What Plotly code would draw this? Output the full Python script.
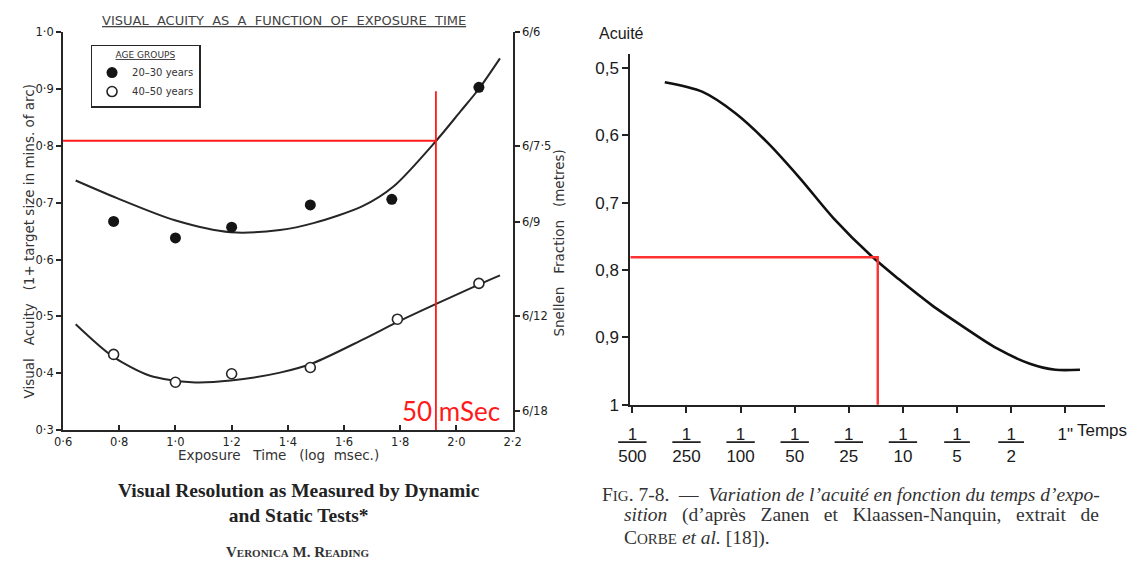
import plotly.graph_objects as go

W, H = 1142, 570


def fx(p):
    """Horizontal pixel position -> paper fraction."""
    return p / W


def fy(p):
    """Vertical pixel position (from top) -> paper fraction."""
    return 1 - p / H


# ---------------- Left panel: Reading, visual acuity vs exposure time ----------------
log_time_ticks = [0.6, 0.8, 1.0, 1.2, 1.4, 1.6, 1.8, 2.0, 2.2]
log_time_labels = ["0·6", "0·8", "1·0", "1·2", "1·4", "1·6", "1·8", "2·0", "2·2"]
acuity_ticks = [0.3, 0.4, 0.5, 0.6, 0.7, 0.8, 0.9, 1.0]
acuity_labels = ["0·3", "0·4", "0·5", "0·6", "0·7", "0·8", "0·9", "1·0"]
snellen_ticks = [1.0, 0.8, 2 / 3, 0.5, 1 / 3]
snellen_labels = ["6/6", "6/7·5", "6/9", "6/12", "6/18"]

# measured points, age group 20-30 years (filled)
young_x = [0.78, 1.00, 1.20, 1.48, 1.77, 2.08]
young_y = [0.667, 0.638, 0.657, 0.696, 0.706, 0.903]
# measured points, age group 40-50 years (open)
old_x = [0.78, 1.00, 1.20, 1.48, 1.79, 2.08]
old_y = [0.433, 0.384, 0.399, 0.410, 0.495, 0.558]

# fitted curves
young_fit_x = [0.645, 0.792, 0.998, 1.197, 1.372, 1.491, 1.666, 1.777, 1.928, 2.015, 2.081, 2.155]
young_fit_y = [0.739, 0.708, 0.669, 0.648, 0.652, 0.664, 0.694, 0.729, 0.809, 0.861, 0.901, 0.954]
old_fit_x = [0.645, 0.775, 0.907, 1.058, 1.197, 1.372, 1.491, 1.666, 1.798, 1.928, 2.085, 2.155]
old_fit_y = [0.486, 0.430, 0.396, 0.384, 0.387, 0.401, 0.418, 0.459, 0.492, 0.522, 0.557, 0.572]

# red reference lines (50 ms marker)
ref_left_time = 1.927
ref_left_acuity = 0.809
ref_left_top = 0.896

# ---------------- Right panel: Zanen & Klaassen-Nanquin ----------------
exposure_denoms = ["500", "250", "100", "50", "25", "10", "5", "2"]
exposure_last = '1"'
acuite_ticks = [0.5, 0.6, 0.7, 0.8, 0.9, 1.0]
acuite_labels = ["0,5", "0,6", "0,7", "0,8", "0,9", "1"]

# curve, x given as position along the exposure scale (0 = 1/500 s ... 8 = 1 s)
acuite_pos = [0.599, 1.288, 1.905, 2.503, 3.102, 3.719, 4.444, 4.916, 5.533, 6.132, 6.730, 7.347, 7.819, 8.272]
acuite_val = [0.521, 0.535, 0.567, 0.611, 0.664, 0.723, 0.781, 0.813, 0.852, 0.885, 0.916, 0.939, 0.948, 0.948]

ref_right_pos = 4.535
ref_right_acuity = 0.781

INK = "#262626"
RED = "#ff1a1a"
SCAN_FONT = "DejaVu Sans"
HELV = "Liberation Sans, Arial, sans-serif"
SERIF = "Liberation Serif, Times New Roman, serif"
SP2 = "\u00a0\u00a0"
SP3 = "\u00a0\u00a0\u00a0"

fig = go.Figure()

# fitted curves
fig.add_trace(go.Scatter(x=young_fit_x, y=young_fit_y, mode="lines", showlegend=False,
                         line=dict(color=INK, width=2, shape="spline", smoothing=0.8),
                         xaxis="x", yaxis="y", hoverinfo="skip"))
fig.add_trace(go.Scatter(x=old_fit_x, y=old_fit_y, mode="lines", showlegend=False,
                         line=dict(color=INK, width=2, shape="spline", smoothing=0.8),
                         xaxis="x", yaxis="y", hoverinfo="skip"))

# red 50 ms guide lines
fig.add_trace(go.Scatter(
    x=[log_time_ticks[0], ref_left_time, None, ref_left_time, ref_left_time],
    y=[ref_left_acuity, ref_left_acuity, None, ref_left_top, acuity_ticks[0]],
    mode="lines", showlegend=False, line=dict(color=RED, width=1.8),
    xaxis="x", yaxis="y", hoverinfo="skip"))

# measured points
fig.add_trace(go.Scatter(x=young_x, y=young_y, mode="markers", name="20–30 years",
                         marker=dict(symbol="circle", size=11, color="#151515"),
                         xaxis="x", yaxis="y"))
fig.add_trace(go.Scatter(x=old_x, y=old_y, mode="markers", name="40–50 years",
                         marker=dict(symbol="circle", size=10, color="white",
                                     line=dict(color=INK, width=1.6)),
                         xaxis="x", yaxis="y"))

# Snellen scale companion (same values, right-hand axis)
fig.add_trace(go.Scatter(x=[log_time_ticks[0]] * len(snellen_ticks), y=snellen_ticks,
                         mode="markers", marker=dict(opacity=0), showlegend=False,
                         xaxis="x", yaxis="y3", hoverinfo="skip"))

# right panel curve
fig.add_trace(go.Scatter(x=acuite_pos, y=acuite_val, mode="lines", showlegend=False,
                         line=dict(color="#111111", width=2.6, shape="spline", smoothing=0.8),
                         xaxis="x2", yaxis="y2", hoverinfo="skip"))
fig.add_trace(go.Scatter(
    x=[-0.04, ref_right_pos, ref_right_pos],
    y=[ref_right_acuity, ref_right_acuity, acuite_ticks[-1] + 0.005],
    mode="lines", showlegend=False, line=dict(color="#ff3030", width=2.4),
    xaxis="x2", yaxis="y2", hoverinfo="skip", cliponaxis=False))

tick_left = dict(family=SCAN_FONT, size=11.5, color="#222222")
tick_right = dict(family=HELV, size=17, color="#1a1a1a")

fraction_labels = []
for d in exposure_denoms:
    pad = SP2 if len(d) > 1 else "\u00a0\u2009"
    fraction_labels.append(f"<u>{pad}1{pad}</u><br>{d}")
fraction_labels.append(exposure_last)

fig.update_layout(
    width=W, height=H,
    margin=dict(l=0, r=0, t=0, b=0),
    paper_bgcolor="white", plot_bgcolor="white",
    showlegend=True,
    legend=dict(
        x=fx(80), y=fy(39), xanchor="left", yanchor="top",
        bordercolor=INK, borderwidth=1.5, bgcolor="white",
        font=dict(family=SCAN_FONT, size=10, color="#333333"),
        title=dict(text="<u>AGE GROUPS</u>", side="top center",
                   font=dict(family=SCAN_FONT, size=9, color="#333333")),
        itemwidth=30, tracegroupgap=0,
    ),
    xaxis=dict(
        domain=[fx(52), fx(510)], range=[0.6, 2.2], anchor="y",
        tickvals=log_time_ticks, ticktext=log_time_labels,
        ticks="inside", ticklen=5, tickwidth=1.5, tickcolor=INK,
        showline=True, linecolor=INK, linewidth=2,
        showgrid=False, zeroline=False, tickfont=tick_left,
    ),
    yaxis=dict(
        domain=[fy(436), fy(26)], range=[0.3, 1.0], anchor="x",
        tickvals=acuity_ticks, ticktext=acuity_labels,
        ticks="outside", ticklen=5, tickwidth=1.5, tickcolor=INK,
        showline=True, linecolor=INK, linewidth=2,
        showgrid=False, zeroline=False, tickfont=tick_left,
    ),
    yaxis3=dict(
        overlaying="y", side="right", anchor="x", range=[0.3, 1.0],
        tickvals=snellen_ticks, ticktext=snellen_labels,
        ticks="outside", ticklen=5, tickwidth=1.5, tickcolor=INK,
        showline=True, linecolor=INK, linewidth=2,
        showgrid=False, zeroline=False, tickfont=tick_left,
    ),
    xaxis2=dict(
        domain=[fx(630), fx(1113)], range=[-0.036, 8.726], anchor="y2",
        tickvals=list(range(len(fraction_labels))), ticktext=fraction_labels,
        ticks="outside", ticklen=6, tickwidth=1.5, tickcolor="#222222",
        ticklabelstandoff=7,
        showline=True, linecolor="#222222", linewidth=2.2,
        showgrid=False, zeroline=False, tickfont=tick_right,
    ),
    yaxis2=dict(
        domain=[fy(410), fy(48)], range=[1.0, 0.4784], anchor="x2",
        tickvals=acuite_ticks, ticktext=acuite_labels,
        ticks="outside", ticklen=6, tickwidth=1.5, tickcolor="#222222",
        showline=True, linecolor="#222222", linewidth=2.2,
        showgrid=False, zeroline=False, tickfont=tick_right,
    ),
)

annotations = [
    # left panel heading
    dict(text="<u>" + SP2.join(["VISUAL", "ACUITY", "AS", "A", "FUNCTION", "OF", "EXPOSURE", "TIME"]) + "</u>",
         x=fx(277), y=fy(14), font=dict(family=SCAN_FONT, size=13, color="#444444")),
    # axis titles
    dict(text="Visual" + SP3 + "Acuity" + SP3 + "(1+ target size in mins. of arc)",
         x=fx(17), y=fy(241), textangle=-90,
         font=dict(family=SCAN_FONT, size=13.5, color="#333333")),
    dict(text="Snellen" + SP3 + "Fraction" + SP3 + "(metres)",
         x=fx(557), y=fy(243), textangle=-90,
         font=dict(family=SCAN_FONT, size=13.5, color="#333333")),
    dict(text="Exposure" + SP3 + "Time" + SP3 + "(log" + SP2 + "msec.)",
         x=fx(272), y=fy(462), font=dict(family=SCAN_FONT, size=13.5, color="#333333")),
    # 50 ms label beside the red guide
    dict(text="50 mSec", xref="x", yref="y", x=1.98, y=0.334,
         font=dict(family="Lato", size=26, color=RED)),
    # left caption
    dict(text="<b>Visual Resolution as Measured by Dynamic<br>and Static Tests*</b>",
         x=fx(292), y=fy(511), font=dict(family=SERIF, size=19.5, color="#222222")),
    dict(text="<b>Veronica M. Reading</b>", x=fx(291), y=fy(562),
         font=dict(family=SERIF, size=15, color="#333333", variant="small-caps")),
    # right panel axis names
    dict(text="Acuité", x=fx(596), y=fy(27), xanchor="left",
         font=dict(family=HELV, size=16, color="#1a1a1a")),
    dict(text="Temps", x=fx(1083), y=fy(437), xanchor="left",
         font=dict(family=HELV, size=17, color="#1a1a1a")),
    # right caption
    dict(text="F<span style='font-size:15px'>IG</span>. 7-8." + SP2 + "\u2014" + SP2
              + "<i>Variation de l\u2019acuité en fonction du temps d\u2019expo-</i>",
         x=fx(599), y=fy(502), xanchor="left",
         font=dict(family=SERIF, size=19.5, color="#333333")),
    dict(text="<i>sition</i>" + SP3 + "(d\u2019après" + SP3 + "Zanen" + SP3 + "et" + SP3
              + "Klaassen-Nanquin," + SP3 + "extrait" + SP3 + "de",
         x=fx(621), y=fy(524), xanchor="left",
         font=dict(family=SERIF, size=19.5, color="#333333")),
    dict(text="C<span style='font-size:15px'>ORBE</span> <i>et al.</i> [18]).",
         x=fx(621), y=fy(547), xanchor="left",
         font=dict(family=SERIF, size=19.5, color="#333333")),
]
for a in annotations:
    a.setdefault("xref", "paper")
    a.setdefault("yref", "paper")
    a.setdefault("showarrow", False)
    a.setdefault("xanchor", "center")
    a.setdefault("yanchor", "middle")
fig.update_layout(annotations=annotations)

fig.write_html("out.html")
